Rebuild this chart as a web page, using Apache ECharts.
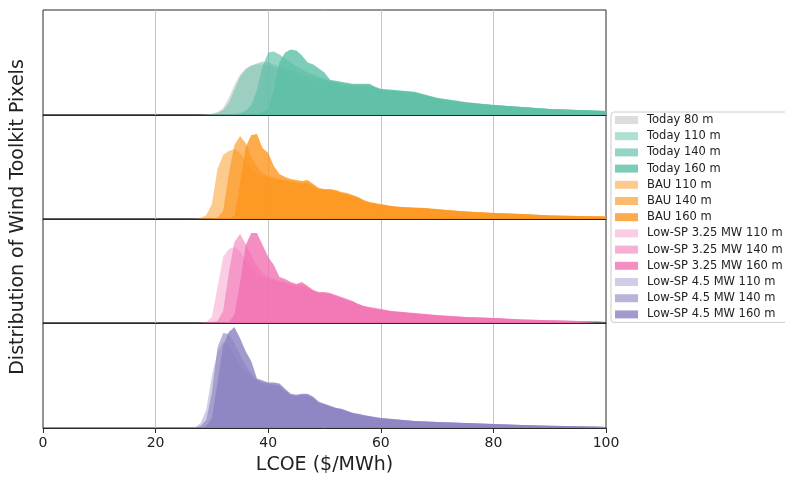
<!DOCTYPE html>
<html>
<head>
<meta charset="utf-8">
<script src="https://cdn.jsdelivr.net/npm/echarts@6/dist/echarts.min.js"></script>
<style>html,body{margin:0;padding:0;background:#fff;}#chart{width:785px;height:480px;}</style>
</head>
<body>
<div id="chart"></div>
<script>
// LCOE bin positions ($/MWh)
const lcoe = [26,27,28,29,30,31,32,33,34,35,36,37,38,39,40,41,42,43,44,45,46,47,48,49,50,51,52,53,54,55,56,57,58,59,60,62,64,66,68,70,75,80,85,90,95,100];
const xTicks = [0, 20, 40, 60, 80, 100];

// Distribution heights (relative pixel counts)
const today80  = [0,0,0.3,0.8,1.5,3,7,17,30,40,46,49,50,50,49,47,45,43,41,39,37,35,34,33,32,31,30,29,28,28,27,27,27,25,24, 23,22,21,18,16, 12,10,8,6,5,4];
const today110 = [0,0,0,0.3,0.8,2,5,12,25,38,45,49,51,53,52,50,48,46,44,42,40,38,37,36,35,33,32,31,30,30,29,29,29,27,25, 24,23,22,19,16, 12,10,8,6,5,4];
const today140 = [0,0,0,0,0,0,0.3,0.6,1,2,4,10,25,48,62,63,60,56,52,48,45,42,40,38,36,34,33,32,31,30,30,30,30,27,25, 24.5,23.5,22.5,19.5,16.5, 12.5,10,8,6,5,4];
const today160 = [0,0,0,0,0,0,0,0,0,0,0,0,1,3,6,25,52,62,65,64,59,52,50,46,42,35,34,33,32,31,31,31,31,28,26, 25,24,23,20,17, 13,10,8,6,5,4];

const bau110 = [0,0.2,0.8,4,15,50,64,68,70,66,58,50,45,42,41,40,39,38,37,36,35,35,32,29,28,28,27,25,24,22,20,18,16,15,14, 12.5,11.5,11,10.5,9.5, 7.5,6,5,3.5,3,2.5];
const bau140 = [0,0,0,0.2,0.5,1.5,8,45,74,83,76,62,52,46,43,41,40,39,38,37,36,37,33,30,29,29,28,26,25,23,21,18,16,15,14, 12.5,11.5,11,10.5,9.5, 7.5,6,5,3.5,3,2.5];
const bau160 = [0,0,0,0,0,0.2,0.5,1,3,35,72,84,85,71,66,53,45,42,40,39,38,39,35,31,30,30,29,27,26,24,22,19,17,16,15, 13,12,11.5,11,10, 7.5,6,5,3.5,3,2.5];

const lsp325_110 = [0,0,0.3,1,6,36,66,74,76,72,62,54,48,45,43,42,41,39,37,36,37,34,31,29,29,28,26,24,22,21,18,16,15,14,13, 11.5,10.5,9.5,8.5,7.5, 6,5,3.5,2.7,2,1.5];
const lsp325_140 = [0,0,0,0.3,0.8,2,12,50,81,89,79,68,57,50,46,44,42,41,39,38,39,36,32,30,30,29,27,25,23,21,19,17,15,14,13, 11.5,10.5,9.5,8.5,7.5, 6,5,3.5,2.7,2,1.5];
const lsp325_160 = [0,0,0,0,0,0,0.3,1,8,40,78,90,90,78,66,58,46,44,41,39,41,37,33,31,31,30,28,26,24,22,19,17,16,15,14, 12,11,10,9,8, 6,5,3.5,2.7,2,1.5];

const lsp45_110 = [0.3,0.5,5,18,52,75,85,82,72,62,55,50,46,44,42,42,41,36,32,31,32,32,29,24,23,21,19,18,16,14,13,12,11,10,9.5, 8.5,7.5,7,6.5,6, 5,4,3,2.3,1.8,1.3];
const lsp45_140 = [0,0.3,2,8,35,80,94,93,84,72,62,54,48,45,44,43,42,37,33,32,33,33,30,25,23.5,21.5,19.5,18.5,16.5,14.5,13.5,12.5,11.5,10.5,10, 9,8,7,6.5,6, 5,4,3,2.3,1.8,1.3];
const lsp45_160 = [0,0,0.5,2,10,45,82,95,100,89,76,66,49,47,45,45,44,39,34,33,34,34,31,26,24,22,20,19,17,15,14,13,12,11,10, 9,8,7,6.5,6, 5,4,3,2.3,1.8,1.3];

const panelNames = [
  ['Today 80 m','Today 110 m','Today 140 m','Today 160 m'],
  ['BAU 110 m','BAU 140 m','BAU 160 m'],
  ['Low-SP 3.25 MW 110 m','Low-SP 3.25 MW 140 m','Low-SP 3.25 MW 160 m'],
  ['Low-SP 4.5 MW 110 m','Low-SP 4.5 MW 140 m','Low-SP 4.5 MW 160 m']
];
const panelValues = [
  [today80, today110, today140, today160],
  [bau110, bau140, bau160],
  [lsp325_110, lsp325_140, lsp325_160],
  [lsp45_110, lsp45_140, lsp45_160]
];
const panelColors = [
  ['rgba(180,180,180,0.45)','rgba(92,191,166,0.5)','rgba(92,191,166,0.65)','rgba(92,191,166,0.8)'],
  ['rgba(252,150,30,0.5)','rgba(252,150,30,0.65)','rgba(252,150,30,0.8)'],
  ['rgba(241,112,178,0.35)','rgba(241,112,178,0.55)','rgba(241,112,178,0.8)'],
  ['rgba(137,130,192,0.4)','rgba(137,130,192,0.6)','rgba(137,130,192,0.8)']
];

const gridTops = [10, 115, 219, 323];
const gridHeights = [105, 104, 104, 105];
const FONT = 'DejaVu Sans';
const TXT = '#222';

const grids = [], xAxes = [], yAxes = [], series = [];
for (let p = 0; p < 4; p++) {
  grids.push({left: 43, width: 563, top: gridTops[p], height: gridHeights[p], show: true,
    borderColor: '#2a2a2a', borderWidth: 1, backgroundColor: 'transparent'});
  xAxes.push({gridIndex: p, type: 'value', min: 0, max: 100, interval: 20,
    axisLine: {show: false}, axisTick: {show: false}, axisLabel: {show: false},
    splitLine: {show: true, showMinLine: false, showMaxLine: false, lineStyle: {color: '#c4c4c4', width: 1}}});
  const last = p === 3;
  xAxes.push({gridIndex: p, type: 'value', min: 0, max: 100, interval: 20, position: 'bottom', z: 10,
    axisLine: {show: true, onZero: false, lineStyle: {color: '#2a2a2a', width: 1}},
    axisTick: {show: last, length: 5, lineStyle: {color: '#2a2a2a'}},
    axisLabel: {show: last, fontSize: 14, color: TXT, margin: 8, fontFamily: FONT,
      formatter: v => xTicks.includes(v) ? String(v) : ''},
    splitLine: {show: false},
    name: last ? 'LCOE ($/MWh)' : '', nameLocation: 'middle', nameGap: 28,
    nameTextStyle: {fontSize: 19, color: TXT, fontFamily: FONT}});
  yAxes.push({gridIndex: p, type: 'value', min: 0, max: 104, show: false});
  panelNames[p].forEach((name, k) => {
    const vals = panelValues[p][k];
    const col = panelColors[p][k];
    series.push({
      type: 'line', name: name, xAxisIndex: 2 * p, yAxisIndex: p,
      data: lcoe.map((x, j) => [x, vals[j]]),
      symbol: 'none', showSymbol: false, silent: true,
      lineStyle: {width: 0, opacity: 0},
      itemStyle: {color: col},
      areaStyle: {color: col, opacity: 1}
    });
  });
}

const chart = echarts.init(document.getElementById('chart'), null, {renderer: 'canvas'});
chart.setOption({
  animation: false,
  textStyle: {fontFamily: FONT},
  grid: grids, xAxis: xAxes, yAxis: yAxes, series: series,
  legend: {
    orient: 'vertical', left: 611, top: 112, padding: [2, 10, 2, 4],
    itemWidth: 23, itemHeight: 8, itemGap: 4.2, icon: 'rect',
    selectedMode: false, backgroundColor: '#fff', borderColor: '#cccccc', borderWidth: 1, borderRadius: 3,
    itemStyle: {borderWidth: 0},
    textStyle: {fontSize: 11.5, lineHeight: 12, color: TXT, fontFamily: FONT, padding: [0, 0, 0, 4]},
    data: panelNames.flat()
  },
  graphic: [{
    type: 'text', x: 18, y: 217, rotation: Math.PI / 2,
    style: {text: 'Distribution of Wind Toolkit Pixels', fontSize: 19, fontFamily: FONT, fill: TXT,
      align: 'center', verticalAlign: 'middle'}
  }]
});
</script>
</body>
</html>
